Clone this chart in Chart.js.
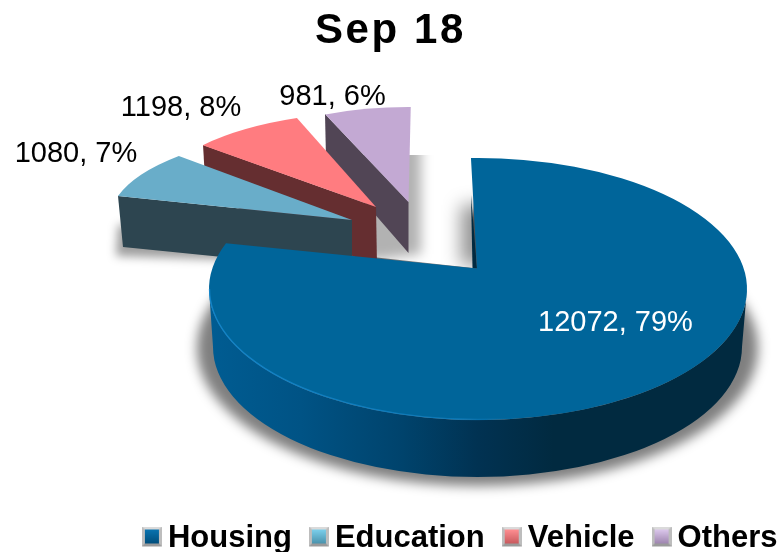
<!DOCTYPE html>
<html><head><meta charset="utf-8">
<style>html,body{margin:0;padding:0;background:#fff}canvas{display:block}</style>
<script src="https://cdn.jsdelivr.net/npm/chart.js@4"></script>
</head><body><canvas id="c" width="781" height="552"></canvas>
<script>
const chartTitle = "Sep 18";
const categories = ["Housing", "Education", "Vehicle", "Others"];
const values = [12072, 1080, 1198, 981];

const faceColors = ["#00659a", "#69adc9", "#ff7c80", "#c3a9d3"];
const wallColors = ["#012a40", "#2d4550", "#652e30", "#514555"];
const markerFaces = [["#0a74b0", "#004e7c"], ["#7cd0ec", "#4a93ad"], ["#ff8f92", "#c95a5e"], ["#dcc8ec", "#9f86b0"]];

const DEG = Math.PI / 180;
/* Perspective projection of each slice: where its centre lands and how its circle is foreshortened */
const projection = [
  { cx: 478, cy: 289, rx: 269, ry: 131, startAdj: -1.5, endAdj: 7, apex: [477, 268.5] },
  { cx: 352, cy: 220, rx: 242.5, ry: 91.3, startAdj: 1.7, endAdj: 5.6,
    wall: [[118,196],[352,220],[352,270],[123,247]] },
  { cx: 376, cy: 207, rx: 228.6, ry: 94.8, startAdj: 1.9, endAdj: 2.8,
    wall: [[203,145],[376,207],[377,266],[206,195]] },
  { cx: 408.5, cy: 202, rx: 215, ry: 95, startAdj: 0.3, endAdj: 0.6,
    wall: [[325,114],[408.5,202],[408.5,253],[326,158]] }
];
const housingBase = { cx: 477.5, cy: 347, rx: 264.5, ry: 130 };
const labelPlaces = [[615.5, 331, "#ffffff"], [76, 162, "#000000"], [181, 116, "#000000"], [332.5, 105, "#000000"]];

function poly(ctx, pts) {
  ctx.beginPath();
  pts.forEach((p, i) => i ? ctx.lineTo(p[0], p[1]) : ctx.moveTo(p[0], p[1]));
  ctx.closePath();
}
function softShape(ctx, blur, alpha, pathFn) {
  ctx.save();
  ctx.filter = `blur(${blur}px)`;
  ctx.fillStyle = `rgba(0,0,0,${alpha})`;
  pathFn();
  ctx.fill();
  ctx.restore();
}
function makeMarker(i) {
  const s = 20, b = 3, c = document.createElement("canvas");
  c.width = s; c.height = s + 4;
  const g = c.getContext("2d");
  g.fillStyle = "#bdbdbd"; g.fillRect(0, 0, s, s);
  g.fillStyle = "#dadada"; poly(g, [[0,0],[s,0],[s-b,b],[b,b]]); g.fill();
  g.fillStyle = "#9a9a9a"; poly(g, [[0,s],[s,s],[s-b,s-b],[b,s-b]]); g.fill();
  const lg = g.createLinearGradient(0, b, 0, s - b);
  lg.addColorStop(0, markerFaces[i][0]);
  lg.addColorStop(1, markerFaces[i][1]);
  g.fillStyle = lg; g.fillRect(b, b, s - 2 * b, s - 2 * b);
  return c;
}
const markers = categories.map((_, i) => makeMarker(i));

const pie3d = {
  id: "pie3d",
  beforeDraw(chart) {
    const t = chart.titleBlock;
    if (t && !t._spaced) {
      const d = t.draw;
      t.draw = function () {
        chart.ctx.letterSpacing = "2.6px";
        d.apply(this, arguments);
        chart.ctx.letterSpacing = "0px";
      };
      t._spaced = true;
    }
  },
  beforeDatasetDraw() { return false; },
  afterDatasetsDraw(chart) {
    const ctx = chart.ctx;
    const arcs = chart.getDatasetMeta(0).data;
    const H = projection[0];

    /* soft shadows */
    ctx.save();
    ctx.beginPath(); ctx.rect(300, 155, 200, 130); ctx.clip();
    softShape(ctx, 6, 0.3, () => poly(ctx, [[332,140],[421,140],[421,254],[376,260],[340,252]]));
    ctx.restore();
    softShape(ctx, 5, 0.38, () => poly(ctx, [[118,225],[350,225],[350,264],[116,256]]));
    softShape(ctx, 9, 0.42, () => poly(ctx, [[461,205],[495,205],[495,265],[461,265]]));
    ctx.save();
    poly(ctx, [[0,0],[226,0],[226,241],[473,268],[473,0],[781,0],[781,552],[0,552]]);
    ctx.clip();
    softShape(ctx, 6, 0.5, () => {
      ctx.beginPath();
      ctx.ellipse(housingBase.cx, housingBase.cy + 1, housingBase.rx + 16, housingBase.ry + 8, 0, 0, 2 * Math.PI);
    });
    ctx.restore();

    /* small exploded slices, back to front */
    [3, 2, 1].forEach(i => {
      const p = projection[i], a = arcs[i];
      poly(ctx, p.wall); ctx.fillStyle = wallColors[i]; ctx.fill();
      ctx.beginPath();
      ctx.moveTo(p.cx, p.cy);
      ctx.ellipse(p.cx, p.cy, p.rx, p.ry, 0, a.startAngle + p.startAdj * DEG, a.endAngle + p.endAdj * DEG);
      ctx.closePath();
      ctx.fillStyle = faceColors[i]; ctx.fill();
    });

    /* housing side wall */
    const wg = ctx.createLinearGradient(209, 0, 747, 0);
    wg.addColorStop(0, "#005c92");
    wg.addColorStop(0.17, "#005385");
    wg.addColorStop(0.36, "#00436c");
    wg.addColorStop(0.5, "#013252");
    wg.addColorStop(0.64, "#012a40");
    wg.addColorStop(1, "#012a40");
    ctx.beginPath();
    ctx.ellipse(H.cx, H.cy, H.rx, H.ry, 0, 0, Math.PI, false);
    ctx.ellipse(housingBase.cx, housingBase.cy, housingBase.rx, housingBase.ry, 0, Math.PI, 0, true);
    ctx.closePath();
    ctx.fillStyle = wg; ctx.fill();

    /* housing inner wall sliver and top face */
    poly(ctx, [[471,195],[472.5,268.5],[477,268.5]]);
    ctx.fillStyle = wallColors[0]; ctx.fill();
    const a0 = arcs[0];
    ctx.beginPath();
    ctx.moveTo(H.apex[0], H.apex[1]);
    ctx.ellipse(H.cx, H.cy, H.rx, H.ry, 0, a0.startAngle + H.startAdj * DEG, a0.endAngle + H.endAdj * DEG);
    ctx.closePath();
    ctx.fillStyle = faceColors[0]; ctx.fill();

    /* rim highlight */
    const rg = ctx.createLinearGradient(209, 0, 520, 0);
    rg.addColorStop(0, "rgba(20,135,205,0.9)");
    rg.addColorStop(0.8, "rgba(20,135,205,0.55)");
    rg.addColorStop(1, "rgba(20,135,205,0)");
    ctx.beginPath();
    ctx.ellipse(H.cx, H.cy, H.rx - 0.5, H.ry - 0.5, 0, 80 * DEG, Math.PI, false);
    ctx.strokeStyle = rg; ctx.lineWidth = 1.3; ctx.stroke();

    /* value labels */
    const total = values.reduce((s, v) => s + v, 0);
    ctx.font = '29px "Liberation Sans"';
    ctx.textAlign = "center";
    ctx.textBaseline = "alphabetic";
    values.forEach((v, i) => {
      const l = labelPlaces[i];
      ctx.fillStyle = l[2];
      ctx.fillText(`${v}, ${Math.round(v / total * 100)}%`, l[0], l[1]);
    });
  },
  afterLayout(chart) {
    chart.legend.right = 804;
    chart.legend.top += 12;
    chart.legend.bottom += 12;
  }
};

new Chart(document.getElementById("c"), {
  type: "pie",
  data: { labels: categories, datasets: [{ data: values, backgroundColor: faceColors, borderWidth: 0 }] },
  plugins: [pie3d],
  options: {
    responsive: false,
    animation: false,
    events: [],
    plugins: {
      tooltip: { enabled: false },
      title: {
        display: true, text: chartTitle, color: "#000",
        font: { family: '"Liberation Sans"', size: 42, weight: "bold" },
        padding: { top: 6, bottom: 0 }
      },
      legend: {
        display: true, position: "bottom", align: "end",
        labels: {
          color: "#000",
          font: { family: '"Liberation Sans"', size: 31, weight: "bold" },
          usePointStyle: true, boxWidth: 1, boxHeight: 20, padding: 26.5,
          generateLabels: () => categories.map((t, i) => ({
            text: t, index: i, pointStyle: markers[i], fillStyle: faceColors[i],
            strokeStyle: faceColors[i], lineWidth: 0, hidden: false, fontColor: "#000"
          }))
        }
      }
    }
  }
});
</script></body></html>
